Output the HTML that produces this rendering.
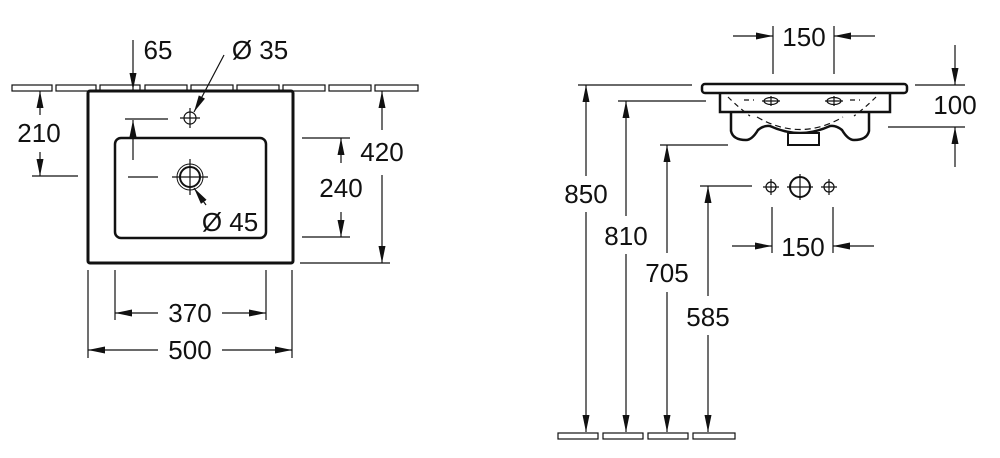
<!DOCTYPE html>
<html><head><meta charset="utf-8"><style>
html,body{margin:0;padding:0;background:#fff;}
svg{display:block;}
text{font-family:"Liberation Sans",Arial,sans-serif;font-size:26px;fill:#111;}
</style></head><body>
<svg width="1000" height="458" viewBox="0 0 1000 458" xmlns="http://www.w3.org/2000/svg">
<defs>
<marker id="a" viewBox="0 0 10 10" refX="10" refY="5" markerWidth="17" markerHeight="7" preserveAspectRatio="none" markerUnits="userSpaceOnUse" orient="auto"><path d="M0,0 L10,5 L0,10 z" fill="#111"/></marker>
</defs>
<g stroke="#111" stroke-width="1.2" fill="none">
<g stroke-width="1.2">
<rect x="12" y="85" width="40" height="6"/><rect x="56" y="85" width="40" height="6"/><rect x="100" y="85" width="40" height="6"/><rect x="145" y="85" width="42" height="6"/><rect x="191" y="85" width="42" height="6"/><rect x="237" y="85" width="42" height="6"/><rect x="283" y="85" width="42" height="6"/><rect x="329" y="85" width="42" height="6"/><rect x="375" y="85" width="43" height="6"/>
</g>
<rect x="88" y="91" width="205" height="172" rx="2" fill="#fff" stroke-width="3"/>
<rect x="115" y="138" width="151" height="100" rx="6" stroke-width="2.5"/>
<circle cx="190" cy="118" r="6" stroke-width="1.2"/>
<path d="M180 118h20M190 108v20"/>
<circle cx="190" cy="177" r="10" stroke-width="2"/>
<circle cx="190" cy="177" r="13" stroke-width="1"/>
<path d="M172 177h36M190 159v36"/>
<path d="M128 177h30"/>
<path d="M125 119h43"/>
<line x1="133" y1="40" x2="133" y2="90" marker-end="url(#a)"/>
<line x1="133" y1="160" x2="133" y2="120" marker-end="url(#a)"/>
<line x1="224" y1="55" x2="194" y2="112" marker-end="url(#a)"/>
<line x1="206" y1="205" x2="194" y2="188" marker-end="url(#a)"/>
<line x1="40" y1="115" x2="40" y2="91" marker-end="url(#a)"/>
<line x1="40" y1="152" x2="40" y2="176" marker-end="url(#a)"/>
<path d="M32 176h46"/>
<path d="M302 138h48M302 237h48"/>
<line x1="341" y1="163" x2="341" y2="138" marker-end="url(#a)"/>
<line x1="341" y1="212" x2="341" y2="237" marker-end="url(#a)"/>
<path d="M300 263h90"/>
<line x1="382" y1="130" x2="382" y2="91" marker-end="url(#a)"/>
<line x1="382" y1="175" x2="382" y2="263" marker-end="url(#a)"/>
<path d="M115 270v50M266 270v50M88 270v88M292 270v88"/>
<line x1="158" y1="313" x2="115" y2="313" marker-end="url(#a)"/>
<line x1="222" y1="313" x2="266" y2="313" marker-end="url(#a)"/>
<line x1="158" y1="350" x2="88" y2="350" marker-end="url(#a)"/>
<line x1="222" y1="350" x2="292" y2="350" marker-end="url(#a)"/>

<g stroke-width="1.2">
<rect x="558" y="433" width="40" height="6"/><rect x="603" y="433" width="40" height="6"/><rect x="648" y="433" width="40" height="6"/><rect x="693" y="433" width="42" height="6"/>
</g>
<rect x="702" y="84" width="205" height="9" rx="3" stroke-width="2.5"/>
<path d="M720 93v19h170v-19" stroke-width="2.5"/>
<path d="M731 113v18q2 9 15 9q6 0 12 -10q6 -5 12 -4q30 14 60 0q6 -1 12 4q6 10 12 10q13 0 15 -9v-18" stroke-width="2.5"/>
<rect x="788" y="133" width="31" height="12" stroke-width="2" fill="#fff"/>
<path d="M728 97q10 10 22 19M744 100h10M876 97q-10 10 -22 19M850 100h10" stroke-dasharray="5 4"/>
<path d="M757 117q43 25 86 0" stroke-dasharray="6 4"/>
<ellipse cx="771" cy="101" rx="7" ry="3.5"/><path d="M762 101h18M771 96v10"/>
<ellipse cx="834" cy="101" rx="7" ry="3.5"/><path d="M825 101h18M834 96v10"/>
<circle cx="771" cy="187" r="5"/><path d="M763 187h16M771 179v16"/>
<circle cx="800" cy="187" r="10" stroke-width="2"/><path d="M787 187h26M800 174v26"/>
<circle cx="829" cy="187" r="5"/><path d="M821 187h16M829 179v16"/>
<path d="M773 26v48M834 26v48"/>
<line x1="733" y1="36" x2="773" y2="36" marker-end="url(#a)"/>
<line x1="875" y1="36" x2="834" y2="36" marker-end="url(#a)"/>
<path d="M772 207v46M833 207v46"/>
<line x1="732" y1="246" x2="772" y2="246" marker-end="url(#a)"/>
<line x1="874" y1="246" x2="833" y2="246" marker-end="url(#a)"/>
<path d="M915 85h50M888 127h77"/>
<line x1="955" y1="45" x2="955" y2="85" marker-end="url(#a)"/>
<line x1="955" y1="167" x2="955" y2="127" marker-end="url(#a)"/>
<path d="M578 85h114M618 101h88M660 145h68M700 186h52"/>
<line x1="586" y1="176" x2="586" y2="85" marker-end="url(#a)"/>
<line x1="586" y1="212" x2="586" y2="432" marker-end="url(#a)"/>
<line x1="626" y1="216" x2="626" y2="101" marker-end="url(#a)"/>
<line x1="626" y1="254" x2="626" y2="432" marker-end="url(#a)"/>
<line x1="667" y1="253" x2="667" y2="145" marker-end="url(#a)"/>
<line x1="667" y1="292" x2="667" y2="432" marker-end="url(#a)"/>
<line x1="708" y1="296" x2="708" y2="186" marker-end="url(#a)"/>
<line x1="708" y1="335" x2="708" y2="432" marker-end="url(#a)"/>
</g>
<g text-anchor="middle">
<text x="158" y="59">65</text>
<text x="260" y="59">Ø 35</text>
<text x="230" y="231">Ø 45</text>
<text x="39" y="142">210</text>
<text x="341" y="197">240</text>
<text x="382" y="161">420</text>
<text x="190" y="322">370</text>
<text x="190" y="359">500</text>
<text x="804" y="46">150</text>
<text x="803" y="256">150</text>
<text x="955" y="114">100</text>
<text x="586" y="203">850</text>
<text x="626" y="245">810</text>
<text x="667" y="282">705</text>
<text x="708" y="326">585</text>
</g>
</svg>
</body></html>
